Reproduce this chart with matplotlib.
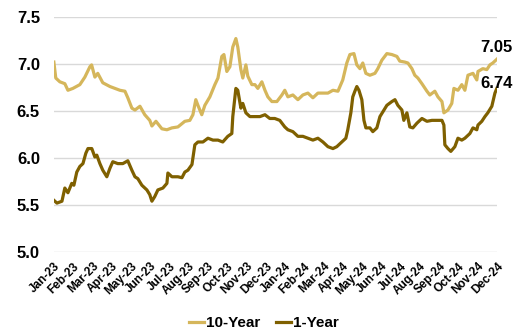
import matplotlib
matplotlib.use("Agg")
import matplotlib.pyplot as plt

plt.rcParams['font.family'] = ['Liberation Sans', 'DejaVu Sans']
plt.rcParams['font.weight'] = 'bold'

months = ['Jan-23', 'Feb-23', 'Mar-23', 'Apr-23', 'May-23', 'Jun-23',
          'Jul-23', 'Aug-23', 'Sep-23', 'Oct-23', 'Nov-23', 'Dec-23',
          'Jan-24', 'Feb-24', 'Mar-24', 'Apr-24', 'May-24', 'Jun-24',
          'Jul-24', 'Aug-24', 'Sep-24', 'Oct-24', 'Nov-24', 'Dec-24']

# position in months since Jan-23, yield in %
t_10y = [0.00, 0.10, 0.31, 0.57, 0.73, 0.99, 1.35, 1.61, 1.87, 1.96, 2.13, 2.28,
         2.54, 2.91, 3.17, 3.43, 3.69, 3.84, 4.05, 4.21, 4.47, 4.72, 4.98, 5.09,
         5.30, 5.61, 5.87, 6.13, 6.44, 6.80, 7.06, 7.22, 7.37, 7.48, 7.68, 7.84,
         8.10, 8.36, 8.52, 8.72, 8.83, 8.98, 9.14, 9.29, 9.45, 9.55, 9.71, 9.81,
         9.97, 10.07, 10.28, 10.44, 10.59, 10.80, 10.96, 11.11, 11.32, 11.58, 11.84, 11.99,
         12.15, 12.41, 12.67, 12.93, 13.19, 13.45, 13.71, 13.97, 14.23, 14.49, 14.75, 15.00,
         15.21, 15.37, 15.58, 15.73, 15.89, 16.04, 16.20, 16.41, 16.67, 16.82, 17.03, 17.29,
         17.55, 17.81, 17.96, 18.22, 18.38, 18.59, 18.74, 18.90, 19.11, 19.37, 19.52, 19.78,
         19.94, 20.15, 20.25, 20.46, 20.66, 20.77, 20.98, 21.18, 21.34, 21.50, 21.76, 21.96,
         22.02, 22.27, 22.48, 22.64, 22.79, 23.00]
y_10y = [7.02, 6.85, 6.81, 6.79, 6.72, 6.74, 6.78, 6.86, 6.97, 6.99, 6.86, 6.90,
         6.80, 6.76, 6.74, 6.72, 6.71, 6.64, 6.53, 6.51, 6.55, 6.46, 6.40, 6.34,
         6.39, 6.31, 6.30, 6.32, 6.33, 6.39, 6.40, 6.46, 6.62, 6.56, 6.46, 6.56,
         6.65, 6.78, 6.85, 7.08, 7.10, 6.92, 6.97, 7.18, 7.27, 7.18, 6.94, 6.85,
         6.99, 6.87, 6.78, 6.78, 6.74, 6.81, 6.72, 6.65, 6.60, 6.60, 6.67, 6.72,
         6.65, 6.67, 6.62, 6.67, 6.69, 6.64, 6.69, 6.69, 6.69, 6.72, 6.71, 6.83,
         7.01, 7.10, 7.11, 6.99, 6.95, 7.01, 6.90, 6.88, 6.90, 6.95, 7.04, 7.11,
         7.10, 7.08, 7.03, 7.02, 7.01, 6.95, 6.88, 6.85, 6.79, 6.71, 6.67, 6.71,
         6.65, 6.60, 6.48, 6.51, 6.58, 6.74, 6.72, 6.78, 6.72, 6.88, 6.90, 6.83,
         6.92, 6.95, 6.94, 6.99, 7.01, 7.05]

t_1y = [0.00, 0.16, 0.42, 0.57, 0.73, 0.93, 1.04, 1.19, 1.35, 1.51, 1.66, 1.77,
        1.97, 2.13, 2.23, 2.39, 2.54, 2.75, 2.91, 3.06, 3.32, 3.58, 3.84, 4.05,
        4.21, 4.36, 4.57, 4.83, 4.98, 5.09, 5.24, 5.40, 5.66, 5.87, 5.92, 6.13,
        6.44, 6.65, 6.80, 6.96, 7.17, 7.32, 7.48, 7.74, 8.00, 8.26, 8.52, 8.77,
        9.03, 9.24, 9.29, 9.45, 9.55, 9.71, 9.81, 9.97, 10.18, 10.44, 10.70, 10.96,
        11.21, 11.47, 11.73, 11.99, 12.15, 12.41, 12.67, 12.93, 13.19, 13.45, 13.71, 13.97,
        14.23, 14.49, 14.69, 14.95, 15.16, 15.26, 15.42, 15.52, 15.63, 15.73, 15.84, 15.99,
        16.10, 16.20, 16.41, 16.56, 16.77, 16.93, 17.08, 17.29, 17.55, 17.71, 17.86, 18.07,
        18.17, 18.33, 18.48, 18.64, 18.85, 19.11, 19.37, 19.63, 19.89, 20.15, 20.25, 20.30,
        20.46, 20.61, 20.82, 20.98, 21.18, 21.34, 21.60, 21.76, 21.96, 22.02, 22.22, 22.38,
        22.53, 22.74, 22.90, 23.00]
y_1y = [5.55, 5.52, 5.54, 5.68, 5.63, 5.73, 5.71, 5.85, 5.91, 5.94, 6.05, 6.10,
        6.10, 6.01, 6.03, 5.94, 5.87, 5.80, 5.89, 5.96, 5.94, 5.94, 5.97, 5.87,
        5.80, 5.78, 5.71, 5.66, 5.61, 5.54, 5.59, 5.66, 5.68, 5.73, 5.84, 5.80,
        5.80, 5.79, 5.85, 5.87, 5.93, 6.14, 6.17, 6.17, 6.21, 6.19, 6.19, 6.17,
        6.23, 6.26, 6.44, 6.74, 6.72, 6.53, 6.58, 6.48, 6.44, 6.44, 6.44, 6.46,
        6.42, 6.42, 6.40, 6.33, 6.30, 6.28, 6.23, 6.23, 6.21, 6.19, 6.21, 6.17,
        6.12, 6.10, 6.12, 6.17, 6.21, 6.30, 6.48, 6.65, 6.71, 6.76, 6.72, 6.62,
        6.40, 6.32, 6.32, 6.28, 6.32, 6.44, 6.49, 6.56, 6.60, 6.62, 6.56, 6.51,
        6.40, 6.48, 6.33, 6.32, 6.37, 6.42, 6.39, 6.40, 6.40, 6.40, 6.35, 6.14,
        6.10, 6.07, 6.12, 6.21, 6.19, 6.21, 6.26, 6.32, 6.30, 6.35, 6.39, 6.44,
        6.48, 6.55, 6.69, 6.74]

c_10y = '#D5B65B'
c_1y = '#7F6000'

fig = plt.figure(figsize=(5.28, 3.32), dpi=100)
ax = fig.add_axes([0.102, 0.241, 0.839, 0.708])

ax.plot(t_10y, y_10y, color=c_10y, lw=2.3, label='10-Year', solid_joinstyle='round')
ax.plot(t_1y, y_1y, color=c_1y, lw=2.3, label='1-Year', solid_joinstyle='round')

# end-of-period values
ax.annotate(f'{y_10y[-1]:.2f}', (t_10y[-1], y_10y[-1]), xytext=(0, 3),
            textcoords='offset points', ha='center', va='bottom',
            fontsize=12, fontweight='bold')
ax.annotate(f'{y_1y[-1]:.2f}', (t_1y[-1], y_1y[-1]), xytext=(0, -2),
            textcoords='offset points', ha='center', va='bottom',
            fontsize=12, fontweight='bold')

ax.set_xlim(0, 23)
ax.set_ylim(5.0, 7.5)
ax.set_yticks([5.0, 5.5, 6.0, 6.5, 7.0, 7.5])
ax.set_yticklabels([f'{v:.1f}' for v in ax.get_yticks()], fontsize=12, fontweight='bold')
ax.set_xticks(range(len(months)))
ax.set_xticklabels(months, rotation=45, ha='right', rotation_mode='anchor',
                   fontsize=8.5, fontweight='bold')
ax.tick_params(axis='both', length=0)
ax.tick_params(axis='y', pad=10)
ax.tick_params(axis='x', pad=6)
ax.grid(axis='y', color='#D9D9D9', lw=1)
ax.set_axisbelow(True)
for s in ax.spines.values():
    s.set_visible(False)

fig.legend(loc='lower center', bbox_to_anchor=(0.5, -0.035), ncol=2, frameon=False,
           handlelength=1.0, handletextpad=0.15, columnspacing=1.0,
           prop={'weight': 'bold', 'size': 11})

fig.savefig('out.png', dpi=100)
